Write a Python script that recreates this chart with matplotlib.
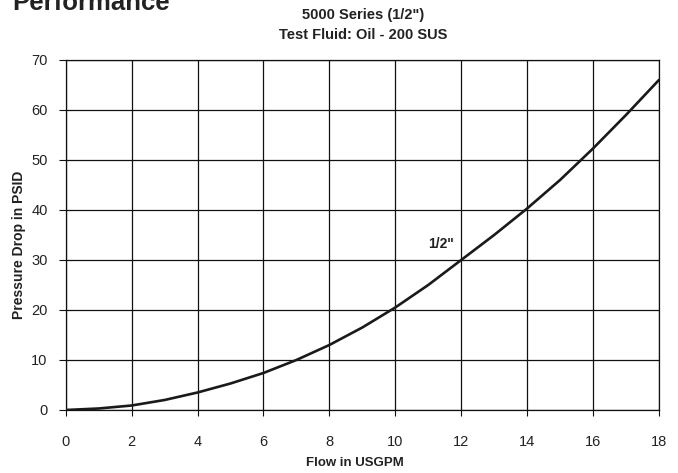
import matplotlib.pyplot as plt

plt.rcParams['font.family'] = ['Liberation Sans', 'DejaVu Sans']

# Data
flow = [0, 1, 2, 3, 4, 5, 6, 7, 8, 9, 10, 11, 12, 13, 14, 15, 16, 17, 18]
pressure = [0, 0.3, 0.9, 2.0, 3.5, 5.3, 7.4, 10.0, 13.0, 16.5, 20.5, 25.0,
            30.0, 35.0, 40.3, 46.0, 52.3, 59.0, 66.0]
x_ticks = list(range(0, 19, 2))
y_ticks = list(range(0, 71, 10))

fig = plt.figure(figsize=(6.78, 4.73), dpi=100)
ax = fig.add_axes([0.0969, 0.1332, 0.875, 0.740])

ax.plot(flow, pressure, color='#1a1a1a', linewidth=1.9, solid_capstyle='round', zorder=3)
ax.text(11.38, 33.1, '1/2"', fontsize=10, fontweight='bold', ha='center', va='center',
        color='#222222')

ax.set_xlim(0, 18)
ax.set_ylim(0, 70)
ax.set_xticks(x_ticks)
ax.set_yticks(y_ticks)
ax.grid(True, color='#111111', linewidth=0.9)
ax.set_axisbelow(True)
for s in ax.spines.values():
    s.set_color('#111111')
    s.set_linewidth(0.9)
ax.tick_params(axis='x', length=4, pad=14, labelsize=10.5, color='#111111', labelcolor='#222222')
ax.tick_params(axis='y', length=5, pad=8, labelsize=10.5, color='#111111', labelcolor='#222222')

ax.set_xlabel('Flow in USGPM', fontsize=9.5, fontweight='bold', color='#222222')
ax.xaxis.set_label_coords(0.4876, -0.151)
ax.xaxis.label.set_va('center')
ax.set_ylabel('Pressure Drop in PSID', fontsize=10, fontweight='bold', color='#222222')
ax.yaxis.set_label_coords(-0.0787, 0.471)
ax.yaxis.label.set_va('center')

fig.text(0.535, 0.968, '5000 Series (1/2")', fontsize=10.5, fontweight='bold',
         ha='center', va='center', color='#222222')
fig.text(0.535, 0.926, 'Test Fluid: Oil - 200 SUS', fontsize=10.5, fontweight='bold',
         ha='center', va='center', color='#222222')
fig.text(0.018, 0.979, 'Performance', fontsize=18.5, fontweight='bold',
         ha='left', va='baseline', color='#222222')

fig.savefig('out.png', dpi=100)
